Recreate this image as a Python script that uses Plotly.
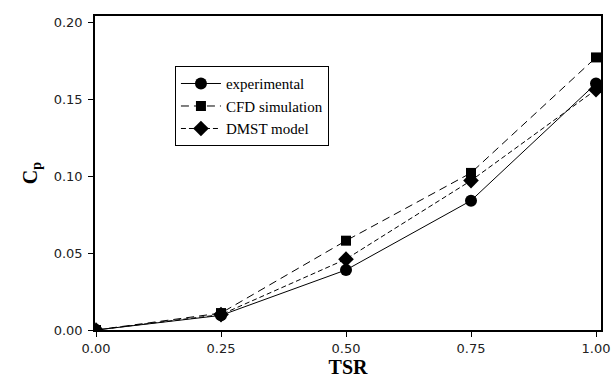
import plotly.graph_objects as go

tsr = [0.0, 0.25, 0.50, 0.75, 1.00]
cp_experimental = [0.0, 0.0095, 0.039, 0.084, 0.160]
cp_cfd = [0.0, 0.011, 0.058, 0.102, 0.177]
cp_dmst = [0.0, 0.010, 0.046, 0.097, 0.156]
x_ticks = [0.0, 0.25, 0.50, 0.75, 1.00]
y_ticks = [0.0, 0.05, 0.10, 0.15, 0.20]

fig = go.Figure()
fig.add_trace(go.Scatter(x=tsr, y=cp_experimental, name="experimental", mode="lines+markers",
                         line=dict(color="black", width=1, dash="solid"),
                         marker=dict(symbol="circle", size=12, color="black")))
fig.add_trace(go.Scatter(x=tsr, y=cp_cfd, name="CFD simulation", mode="lines+markers",
                         line=dict(color="black", width=1, dash="8px,5px"),
                         marker=dict(symbol="square", size=10, color="black")))
fig.add_trace(go.Scatter(x=tsr, y=cp_dmst, name="DMST model", mode="lines+markers",
                         line=dict(color="black", width=1, dash="5px,3px"),
                         marker=dict(symbol="diamond", size=12, color="black")))

axis_common = dict(showline=True, linecolor="black", linewidth=1.5, mirror=True,
                   ticks="outside", ticklen=5, tickcolor="black", showgrid=False,
                   zeroline=False, automargin=False,
                   tickfont=dict(family="DejaVu Sans", size=13, color="#222"))

fig.update_layout(
    width=611, height=379,
    margin=dict(l=95, r=10, t=16, b=49),
    paper_bgcolor="white", plot_bgcolor="white",
    xaxis=dict(range=[-0.002, 1.01], tickvals=x_ticks, ticktext=[f"{v:.2f}" for v in x_ticks],
               ticklabelstandoff=1,
               title=dict(text="<b>TSR</b>", font=dict(family="Liberation Serif", size=20, color="black"),
                          standoff=0), **axis_common),
    yaxis=dict(range=[0, 0.2039], tickvals=y_ticks, ticktext=[f"{v:.2f}" for v in y_ticks],
               ticklabelstandoff=3,
               title=dict(text="<b>C<sub>p</sub></b>", font=dict(family="Liberation Serif", size=20, color="black"),
                          standoff=11), **axis_common),
    legend=dict(x=0.158, y=0.84, xanchor="left", yanchor="top",
                bgcolor="white", bordercolor="black", borderwidth=1,
                font=dict(family="Liberation Serif", size=15, color="black"),
                tracegroupgap=0, itemwidth=40),
    showlegend=True,
)

fig.write_html("out.html")
